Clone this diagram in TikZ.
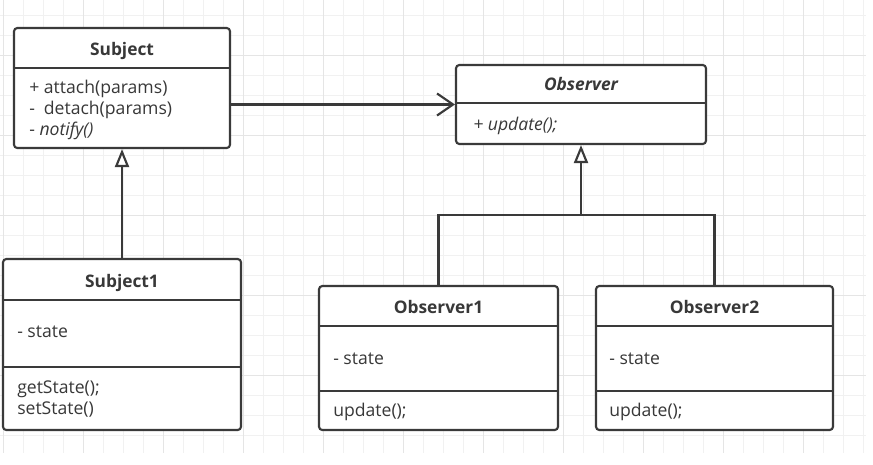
\documentclass[tikz,border=0pt]{standalone}
\usepackage{fontspec}
\setmainfont{Open Sans}
\usetikzlibrary{arrows.meta,fit}
\definecolor{ink}{HTML}{383838}
\definecolor{edge}{HTML}{3A3A3A}
\definecolor{gridminor}{HTML}{F1F1F1}
\definecolor{gridmajor}{HTML}{E5E5E5}
\begin{document}
\begin{tikzpicture}[x=0.75pt,y=-0.75pt,
  umlbox/.style={draw=edge, fill=white, line width=1.6pt, rounded corners=2.5pt, inner sep=0pt},
  divider/.style={draw=edge, line width=1.6pt},
  txt/.style={text=ink, inner sep=0pt, font=\fontsize{13.2}{15}\selectfont},
  title/.style={txt, anchor=base, font=\fontsize{13}{15}\selectfont\bfseries},
  item/.style={txt, anchor=base west},
  conn/.style={draw=edge, line width=1.6pt},
  assoc/.style={conn, -{Straight Barb[length=12pt, width=16.5pt, line width=1.6pt]}},
  inherit/.style={conn, -{Triangle[open, length=13.5pt, width=10.5pt, line width=1.6pt, fill=white]}}
]
\useasboundingbox (0,0) rectangle (873,464);
\fill[white] (0,0) rectangle (873,464);
% grid
\foreach \gx in {3,23,...,863} \draw[gridminor, line width=0.75pt] (\gx,0) -- (\gx,453);
\foreach \gy in {15,35,...,435} \draw[gridminor, line width=0.75pt] (0,\gy) -- (866,\gy);
\foreach \gx in {3,83,...,803} \draw[gridmajor, line width=0.75pt] (\gx,0) -- (\gx,453);
\foreach \gy in {55,135,...,375} \draw[gridmajor, line width=0.75pt] (0,\gy) -- (866,\gy);

% Subject
\node[umlbox, fit={(14,28) (230,148)}] (subject) {};
\draw[divider] (14,68) -- (230,68);
\node[title] (subjectT) at (122,55) {Subject};
\node[item] (sattach) at (29,93) {+ attach(params)};
\node[item] (sdetach) at (29,114) {\rlap{-}\hphantom{+ }detach(params)};
\node[item] (snotify) at (29,135) {- \textit{notify()}};

% Observer
\node[umlbox, fit={(456,65) (706,144)}] (observer) {};
\draw[divider] (456,103) -- (706,103);
\node[title, font=\fontsize{13}{15}\selectfont\bfseries\itshape] (observerT) at (581,90) {Observer};
\node[item, font=\fontsize{13.2}{15}\selectfont\itshape] (oupdate) at (473,130) {+ update();};

% Subject1
\node[umlbox, fit={(3,259) (241,430)}] (subject1) {};
\draw[divider] (3,300) -- (241,300);
\draw[divider] (3,367) -- (241,367);
\node[title] (subject1T) at (122,287) {Subject1};
\node[item] (s1state) at (17,337) {- state};
\node[item] (s1get) at (17,393) {getState();};
\node[item] (s1set) at (17,414) {setState()};

% Observer1
\node[umlbox, fit={(319,286) (558,430)}] (observer1) {};
\draw[divider] (319,326) -- (558,326);
\draw[divider] (319,391) -- (558,391);
\node[title] (observer1T) at (438.5,313) {Observer1};
\node[item] (o1state) at (333,364) {- state};
\node[item] (o1update) at (333,416) {update();};

% Observer2
\node[umlbox, fit={(596,286) (833,430)}] (observer2) {};
\draw[divider] (596,326) -- (833,326);
\draw[divider] (596,391) -- (833,391);
\node[title] (observer2T) at (714.5,313) {Observer2};
\node[item] (o2state) at (609,364) {- state};
\node[item] (o2update) at (609,416) {update();};

% connectors
\coordinate (bus) at (581,215);
\draw[assoc] (subject.east |- observer.west) -- (observer.west);
\draw[inherit] (subject1.north) -- (subject.south);
\draw[conn] (observer1.north) |- (bus) -| (observer2.north);
\draw[inherit] (bus) -- (observer.south);
\end{tikzpicture}
\end{document}
